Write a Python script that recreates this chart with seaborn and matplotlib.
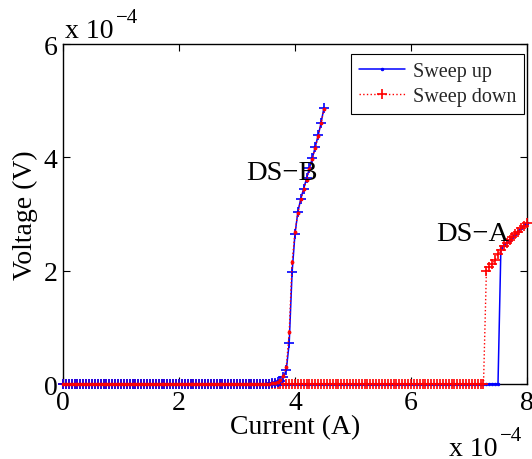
import numpy as np
import pandas as pd
import matplotlib
matplotlib.use("Agg")
import matplotlib.pyplot as plt
import seaborn as sns

# Current sweep step and axis scale (values below are in units of 1e-4)
STEP = 0.05

# DS-B: flat at 0 V until the onset, then the steep rise (current, voltage)
dsb_flat_end = 3.50
dsb_up_i = [3.55, 3.60, 3.65, 3.70, 3.75, 3.80, 3.85, 3.90, 3.95, 4.00,
            4.05, 4.10, 4.15, 4.20, 4.25, 4.30, 4.35, 4.40, 4.45, 4.50]
dsb_up_v = [0.00, 0.01, 0.02, 0.03, 0.06, 0.12, 0.25, 0.72, 1.97, 2.65,
            3.04, 3.27, 3.45, 3.63, 3.82, 3.99, 4.19, 4.39, 4.61, 4.88]
dsb_dn_i = dsb_up_i
dsb_dn_v = [0.00, 0.01, 0.02, 0.04, 0.07, 0.14, 0.30, 0.91, 2.15, 2.68,
            3.02, 3.26, 3.44, 3.60, 3.80, 3.98, 4.17, 4.38, 4.60, 4.86]

# DS-A: switching near 7.3e-4 A (down) and 7.5e-4 A (up)
dsa_up_flat_end = 7.50
dsa_up_i = [7.55, 7.60, 7.65, 7.70, 7.75, 7.80, 7.85, 7.90, 7.95, 8.00]
dsa_up_v = [2.40, 2.45, 2.50, 2.55, 2.60, 2.65, 2.70, 2.75, 2.80, 2.85]
dsa_dn_flat_end = 7.25
dsa_dn_i = [7.30, 7.35, 7.40, 7.45, 7.50, 7.55, 7.60, 7.65, 7.70, 7.75,
            7.80, 7.85, 7.90, 7.95, 8.00]
dsa_dn_v = [2.00, 2.06, 2.12, 2.19, 2.30, 2.37, 2.43, 2.49, 2.54, 2.59,
            2.64, 2.69, 2.75, 2.79, 2.84]

x_ticks = [0, 2, 4, 6, 8]
y_ticks = [0, 2, 4, 6]


def sweep(flat_end, rise_i, rise_v):
    flat_i = np.round(np.arange(0, flat_end + STEP / 2, STEP), 2)
    i = np.concatenate([flat_i, rise_i])
    v = np.concatenate([np.zeros(len(flat_i)), rise_v])
    return pd.DataFrame({"current": i, "voltage": v})


dsb_up = sweep(dsb_flat_end, dsb_up_i, dsb_up_v)
dsb_dn = sweep(dsb_flat_end, dsb_dn_i, dsb_dn_v)
dsa_up = sweep(dsa_up_flat_end, dsa_up_i, dsa_up_v)
dsa_dn = sweep(dsa_dn_flat_end, dsa_dn_i, dsa_dn_v)

sns.set_style("ticks")
plt.rcParams["font.family"] = ["Liberation Serif", "DejaVu Serif"]

fig = plt.figure(figsize=(5.32, 4.6), dpi=100)
ax = fig.add_axes([0.1184, 0.163, 0.8722, 0.739])

BLUE = "#0000ff"
RED = "#ff0000"
common = dict(ax=ax, x="current", y="voltage", estimator=None)

# DS-A first (up under down), then DS-B on top
sns.lineplot(data=dsa_up, color=BLUE, linestyle="-", linewidth=1.1,
             marker=".", markersize=3.5, markeredgecolor=BLUE,
             label="Sweep up", **common)
sns.lineplot(data=dsa_dn, color=RED, linestyle=":", linewidth=1.0,
             marker="+", markersize=7, markeredgewidth=1.2,
             markeredgecolor=RED, label="Sweep down", **common)
sns.lineplot(data=dsb_up, color=BLUE, linestyle="-", linewidth=1.1,
             marker="+", markersize=7, markeredgewidth=1.2,
             markeredgecolor=BLUE, **common)
sns.lineplot(data=dsb_dn, color=RED, linestyle=":", linewidth=1.0,
             marker=".", markersize=4, markeredgecolor=RED, **common)
for ln in ax.lines:
    ln.set_clip_on(False)
    ln.set_zorder(3)

ax.set_xlim(0, 8)
ax.set_ylim(0, 6)
ax.set_xticks(x_ticks)
ax.set_yticks(y_ticks)
ax.set_xticklabels([str(t) for t in x_ticks])
ax.set_yticklabels([str(t) for t in y_ticks])
ax.tick_params(direction="in", length=5, width=0.8, top=True, right=True,
               labelsize=20, pad=4, color="black", labelcolor="black")
for s in ax.spines.values():
    s.set_visible(True)
    s.set_linewidth(1.0)
    s.set_color("black")
    s.set_zorder(1)

ax.set_xlabel("Current (A)", fontsize=20, labelpad=0, color="black")
ax.set_ylabel("Voltage (V)", fontsize=20, labelpad=4, color="black")


def exponent_label(x_px, y_px):
    """Draw 'x 10^-4' with its baseline-left corner at figure pixel (x, y from top)."""
    W, H = 532, 460
    fig.text(x_px / W, 1 - y_px / H, "x 10", fontsize=20, ha="left",
             va="baseline", color="black")
    fig.text((x_px + 51) / W, 1 - (y_px - 15) / H, "\u22124", fontsize=15,
             ha="left", va="baseline", color="black")


exponent_label(65, 38)
exponent_label(449, 456)

ax.text(3.78, 3.74, "DS\u2212B", fontsize=20.5, ha="center", va="center",
        color="black")
ax.text(7.07, 2.66, "DS\u2212A", fontsize=20.5, ha="center", va="center",
        color="black")

handles, labels = ax.get_legend_handles_labels()
order = [labels.index("Sweep up"), labels.index("Sweep down")]
leg = ax.legend([handles[k] for k in order], [labels[k] for k in order],
                loc="upper right", bbox_to_anchor=(1.0, 0.98), fontsize=14.5,
                frameon=True, fancybox=False, framealpha=1, edgecolor="black",
                handlelength=2.3, borderpad=0.4, labelspacing=0.3,
                handletextpad=0.35, borderaxespad=0.15)
leg.get_frame().set_linewidth(0.8)
leg.set_zorder(5)

fig.savefig("out.png", dpi=100)
